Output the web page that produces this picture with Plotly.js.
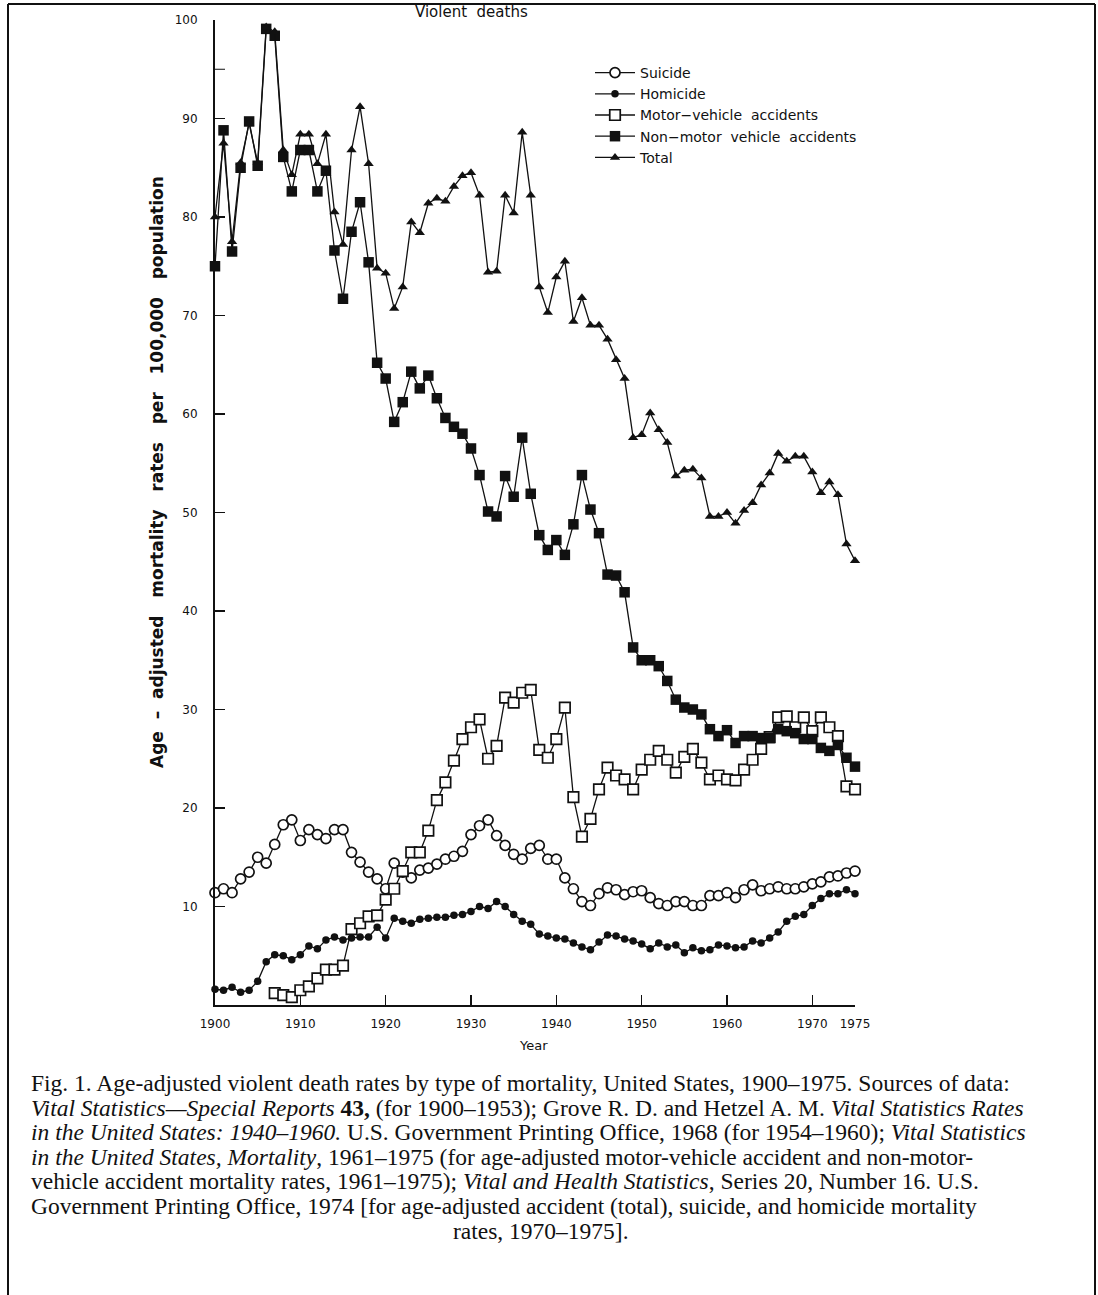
<!DOCTYPE html>
<html>
<head>
<meta charset="utf-8">
<script src="https://cdn.plot.ly/plotly-3.0.1.min.js"></script>
<style>
html,body{margin:0;padding:0;background:#fff;}
#chart{width:1098px;height:1295px;}
</style>
</head>
<body>
<div id="chart"></div>
<script>
// ---- data ----
const years = [1900,1901,1902,1903,1904,1905,1906,1907,1908,1909,
  1910,1911,1912,1913,1914,1915,1916,1917,1918,1919,
  1920,1921,1922,1923,1924,1925,1926,1927,1928,1929,
  1930,1931,1932,1933,1934,1935,1936,1937,1938,1939,
  1940,1941,1942,1943,1944,1945,1946,1947,1948,1949,
  1950,1951,1952,1953,1954,1955,1956,1957,1958,1959,
  1960,1961,1962,1963,1964,1965,1966,1967,1968,1969,
  1970,1971,1972,1973,1974,1975];

const mvYears = [1907,1908,1909,
  1910,1911,1912,1913,1914,1915,1916,1917,1918,1919,
  1920,1921,1922,1923,1924,1925,1926,1927,1928,1929,
  1930,1931,1932,1933,1934,1935,1936,1937,1938,1939,
  1940,1941,1942,1943,1944,1945,1946,1947,1948,1949,
  1950,1951,1952,1953,1954,1955,1956,1957,1958,1959,
  1960,1961,1962,1963,1964,1965,1966,1967,1968,1969,
  1970,1971,1972,1973,1974,1975];

const suicide = [11.4,11.8,11.4,12.8,13.5,15.0,14.4,16.3,18.3,18.8,
  16.7,17.8,17.3,16.9,17.8,17.8,15.5,14.5,13.5,12.8,
  11.8,14.4,13.5,12.9,13.7,13.9,14.3,14.8,15.1,15.6,
  17.3,18.2,18.8,17.2,16.2,15.3,14.8,15.9,16.2,14.8,
  14.8,12.9,11.8,10.5,10.1,11.3,11.9,11.7,11.2,11.5,
  11.6,10.9,10.3,10.1,10.5,10.5,10.1,10.1,11.1,11.1,
  11.4,10.9,11.7,12.2,11.6,11.8,12.0,11.8,11.8,12.0,
  12.3,12.5,13.0,13.1,13.4,13.6];

const homicide = [1.6,1.5,1.8,1.3,1.5,2.4,4.4,5.1,5.0,4.6,
  5.1,6.0,5.7,6.6,6.9,6.6,6.8,6.9,6.9,7.9,
  6.8,8.8,8.5,8.3,8.7,8.8,8.9,8.9,9.1,9.2,
  9.5,10.0,9.8,10.5,10.0,9.2,8.5,8.2,7.2,7.0,
  6.8,6.7,6.3,5.9,5.6,6.4,7.1,7.0,6.7,6.5,
  6.2,5.7,6.3,5.9,6.1,5.3,5.8,5.5,5.6,6.1,
  6.0,5.8,5.9,6.5,6.3,6.8,7.4,8.5,9.0,9.2,
  10.1,10.8,11.3,11.3,11.7,11.3];

const motorVehicle = [1.2,1.0,0.8,
  1.5,1.9,2.7,3.6,3.6,4.0,7.7,8.3,9.0,9.1,
  10.7,11.8,13.6,15.5,15.5,17.7,20.8,22.6,24.8,27.0,
  28.2,29.0,25.0,26.3,31.2,30.7,31.7,32.0,25.9,25.1,
  27.0,30.2,21.1,17.1,18.9,21.9,24.1,23.3,22.9,21.9,
  23.9,24.9,25.8,24.9,23.6,25.2,26.0,24.6,22.9,23.3,
  22.9,22.8,23.9,24.9,26.0,27.2,29.2,29.3,28.2,29.2,
  27.8,29.2,28.2,27.3,22.2,21.9];

const nonMotorVehicle = [75.0,88.8,76.5,85.0,89.7,85.2,99.1,98.4,86.1,82.6,
  86.8,86.8,82.6,84.7,76.6,71.7,78.5,81.5,75.4,65.2,
  63.6,59.2,61.2,64.3,62.6,63.9,61.6,59.6,58.7,58.0,
  56.5,53.8,50.1,49.6,53.7,51.6,57.6,51.9,47.7,46.2,
  47.2,45.7,48.8,53.8,50.3,47.9,43.7,43.6,41.9,36.3,
  35.0,35.0,34.4,32.9,31.0,30.2,30.0,29.5,28.0,27.3,
  27.9,26.6,27.3,27.3,27.1,27.1,28.0,27.8,27.6,27.0,
  27.0,26.1,25.8,26.4,25.1,24.2];

const total = [80.0,87.5,77.5,85.5,89.5,85.5,99.3,98.8,86.8,84.3,
  88.4,88.4,85.4,88.4,80.5,77.2,86.8,91.2,85.4,74.8,
  74.3,70.7,72.9,79.5,78.4,81.4,81.9,81.6,83.1,84.2,
  84.5,82.2,74.4,74.5,82.2,80.4,88.6,82.2,72.9,70.3,
  73.9,75.5,69.4,71.8,69.0,69.0,67.6,65.5,63.6,57.6,
  57.9,60.1,58.4,57.1,53.7,54.3,54.4,53.5,49.6,49.6,
  50.0,48.9,50.2,51.0,52.8,54.0,56.0,55.2,55.7,55.7,
  54.1,52.0,53.1,51.8,46.8,45.1];

const seriesNames = ["Suicide","Homicide","Motor\u2212vehicle  accidents","Non\u2212motor  vehicle  accidents","Total"];
const xTickVals = [1900,1910,1920,1930,1940,1950,1960,1970,1975];
const xTickText = ["1900","1910","1920","1930","1940","1950","1960","1970","1975"];
const yTickVals = [10,20,30,40,50,60,70,80,90,100];
const yTickText = ["10","20","30","40","50","60","70","80","90","100"];

const captionLines = [
  "Fig. 1. Age-adjusted violent death rates by type of mortality, United States, 1900\u20131975. Sources of data:",
  "<i>Vital Statistics\u2014Special Reports</i> <b>43,</b> (for 1900\u20131953); Grove R. D. and Hetzel A. M. <i>Vital Statistics Rates</i>",
  "<i>in the United States: 1940\u20131960.</i> U.S. Government Printing Office, 1968 (for 1954\u20131960); <i>Vital Statistics</i>",
  "<i>in the United States, Mortality</i>, 1961\u20131975 (for age-adjusted motor-vehicle accident and non-motor-",
  "vehicle accident mortality rates, 1961\u20131975); <i>Vital and Health Statistics</i>, Series 20, Number 16. U.S.",
  "Government Printing Office, 1974 [for age-adjusted accident (total), suicide, and homicide mortality",
  "rates, 1970\u20131975]."
];

// ---- plot ----
const ink = "#111";
const lineStyle = {color: ink, width: 1.3};
const traces = [
  {x: years, y: suicide, name: seriesNames[0], mode: "lines+markers", line: lineStyle, cliponaxis: false,
   marker: {symbol: "circle", size: 10, color: "#fff", line: {color: ink, width: 1.7}}},
  {x: years, y: homicide, name: seriesNames[1], mode: "lines+markers", line: lineStyle, cliponaxis: false,
   marker: {symbol: "circle", size: 7.5, color: ink}},
  {x: mvYears, y: motorVehicle, name: seriesNames[2], mode: "lines+markers", line: lineStyle, cliponaxis: false,
   marker: {symbol: "square", size: 10.5, color: "#fff", line: {color: ink, width: 1.7}}},
  {x: years, y: nonMotorVehicle, name: seriesNames[3], mode: "lines+markers", line: lineStyle, cliponaxis: false,
   marker: {symbol: "square", size: 10.5, color: ink}},
  {x: years, y: total, name: seriesNames[4], mode: "lines+markers", line: lineStyle, cliponaxis: false,
   marker: {symbol: "triangle-up", size: 9, color: ink}}
];

// pixel helpers for paper coordinates (plot area: x 215..855, y 20..1005)
const L = 215, R = 243, T = 20, B = 290, W = 1098, H = 1295;
const pw = W - L - R, ph = H - T - B;
const px = p => (p - L) / pw;
const py = p => (H - B - p) / ph;

const annotations = [
  {text: "Age  \u2013  adjusted   mortality   rates   per   100,000   population", textangle: -90,
   x: px(157), y: py(472), xref: "paper", yref: "paper", showarrow: false,
   xanchor: "center", yanchor: "middle",
   font: {family: "DejaVu Sans", size: 17, color: ink, weight: "bold"}},
  {text: "Violent  deaths", x: px(471), y: py(12), xref: "paper", yref: "paper", showarrow: false,
   xanchor: "center", yanchor: "middle", font: {family: "DejaVu Sans", size: 15, color: ink}},
  {text: "Year", x: px(533), y: py(1045), xref: "paper", yref: "paper", showarrow: false,
   xanchor: "center", yanchor: "middle", font: {family: "DejaVu Sans", size: 13, color: ink}}
];
captionLines.forEach((t, i) => {
  const last = i === captionLines.length - 1;
  annotations.push({
    text: t, x: last ? px(541) : px(29), y: py(1083 + i * 24.6), xref: "paper", yref: "paper",
    showarrow: false, xanchor: last ? "center" : "left", yanchor: "middle", align: "left",
    font: {family: "Liberation Serif", size: 23.5, color: ink}
  });
});

const border = {color: ink, width: 2};
const shapes = [
  {type: "line", xref: "paper", yref: "paper", x0: px(8), x1: px(1095), y0: py(4), y1: py(4), line: border},
  {type: "line", xref: "paper", yref: "paper", x0: px(8), x1: px(8), y0: py(4), y1: py(1295), line: border},
  {type: "line", xref: "paper", yref: "paper", x0: px(1095), x1: px(1095), y0: py(4), y1: py(1295), line: border},
  {type: "line", xref: "paper", yref: "y", x0: 0, x1: 10 / pw, y0: 95, y1: 95, line: {color: ink, width: 1}}
];

const layout = {
  width: W, height: H,
  margin: {l: L, r: R, t: T, b: B, pad: 0},
  paper_bgcolor: "#fff", plot_bgcolor: "#fff",
  font: {family: "DejaVu Sans", color: ink},
  showlegend: true,
  legend: {x: px(590), y: py(57), xanchor: "left", yanchor: "top", bgcolor: "rgba(0,0,0,0)",
           font: {family: "DejaVu Sans", size: 14, color: ink}, itemwidth: 40, tracegroupgap: 0},
  xaxis: {range: [1900, 1975], tickmode: "array", tickvals: xTickVals, ticktext: xTickText,
          ticks: "inside", ticklen: 10, tickwidth: 1.5, tickcolor: ink,
          showline: true, linecolor: ink, linewidth: 2, showgrid: false, zeroline: false,
          ticklabelstandoff: 7, tickfont: {family: "DejaVu Sans", size: 12, color: ink}},
  yaxis: {range: [0, 100], tickmode: "array", tickvals: yTickVals, ticktext: yTickText,
          ticks: "inside", ticklen: 10, tickwidth: 1.5, tickcolor: ink,
          showline: true, linecolor: ink, linewidth: 2, showgrid: false, zeroline: false,
          ticklabelstandoff: 13, tickfont: {family: "DejaVu Sans", size: 12, color: ink}},
  annotations: annotations,
  shapes: shapes
};

Plotly.newPlot("chart", traces, layout, {staticPlot: true, displayModeBar: false});
</script>
</body>
</html>
